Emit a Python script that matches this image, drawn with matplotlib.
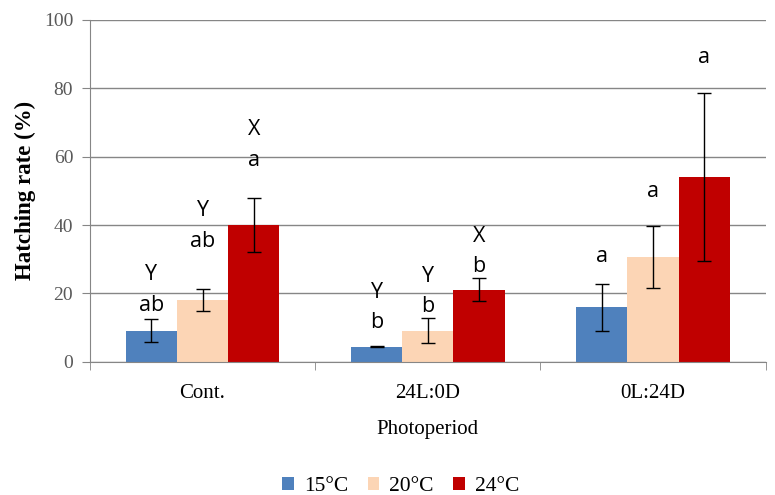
import matplotlib

matplotlib.use("Agg")
import matplotlib.pyplot as plt
import numpy as np

# data
photoperiods = ["Cont.", "24L:0D", "0L:24D"]
temps = ["15°C", "20°C", "24°C"]
colors = ["#4F81BD", "#FCD5B5", "#C00000"]

rate_15 = [9.1, 4.4, 15.9]
rate_20 = [18.1, 9.1, 30.6]
rate_24 = [40.1, 21.1, 54.0]
err_15 = [3.4, 0.2, 7.0]
err_20 = [3.3, 3.6, 9.0]
err_24 = [7.9, 3.4, 24.6]

# significance letters (lower letter, upper letter) per bar and their heights
low_15 = ["ab", "b", "a"]
low_20 = ["ab", "b", "a"]
low_24 = ["a", "b", "a"]
up_15 = ["Y", "Y", ""]
up_20 = ["Y", "Y", ""]
up_24 = ["X", "X", ""]
low_y_15 = [16.4, 11.4, 30.7]
low_y_20 = [35.1, 16.1, 49.7]
low_y_24 = [58.8, 27.8, 88.9]
up_y_15 = [25.4, 20.2, 0]
up_y_20 = [44.2, 24.9, 0]
up_y_24 = [67.8, 36.5, 0]

series = [
    (rate_15, err_15, low_15, up_15, low_y_15, up_y_15),
    (rate_20, err_20, low_20, up_20, low_y_20, up_y_20),
    (rate_24, err_24, low_24, up_24, low_y_24, up_y_24),
]

serif = "Liberation Serif"
sans = "Open Sans"

fig = plt.figure(figsize=(7.75, 4.95), dpi=100)
ax = fig.add_axes([0.116, 0.269, 0.872, 0.691])

x = np.arange(len(photoperiods))
width = 0.227
for i, (vals, errs, lows, ups, lys, uys) in enumerate(series):
    pos = x + (i - 1) * width
    ax.bar(pos, vals, width=width, color=colors[i], label=temps[i], zorder=2)
    ax.errorbar(pos, vals, yerr=errs, fmt="none", ecolor="black",
                elinewidth=1, capsize=5, capthick=1, zorder=3)
    for p, lo, up, ly, uy in zip(pos, lows, ups, lys, uys):
        ax.text(p, ly, lo, ha="center", va="center", fontsize=15.5, family=sans)
        if up:
            ax.text(p, uy, up, ha="center", va="center", fontsize=15.5, family=sans)

ax.set_xlim(-0.5, 2.5)
ax.set_ylim(0, 100)
ax.set_yticks(np.arange(0, 101, 20))
ax.yaxis.grid(True, color="#868686", linewidth=1)
ax.set_axisbelow(True)

for side in ["top", "right"]:
    ax.spines[side].set_visible(False)
ax.spines["left"].set_color("#868686")
ax.spines["bottom"].set_color("#868686")

ax.set_xticks(x)
ax.set_xticklabels(photoperiods, fontsize=15, family=serif)
ax.set_xticks([-0.5, 0.5, 1.5, 2.5], minor=True)
ax.tick_params(axis="x", which="major", length=0, pad=16)
ax.tick_params(axis="x", which="minor", length=6, color="#868686")
ax.tick_params(axis="y", length=6, color="#868686", labelcolor="#595959", pad=6)
for lab in ax.get_yticklabels():
    lab.set_family(serif)
    lab.set_fontsize(14)

ax.set_ylabel("Hatching rate (%)", fontsize=16.5, family=serif, fontweight="bold", labelpad=6)
ax.set_xlabel("Photoperiod", fontsize=15, family=serif, labelpad=12)

fig.legend(loc="center", bbox_to_anchor=(0.517, 0.018), ncol=3, frameon=False,
           prop={"family": serif, "size": 15.5}, handlelength=0.55, handleheight=0.55,
           columnspacing=0.9, handletextpad=0.45)

fig.savefig("out.png", dpi=100)
